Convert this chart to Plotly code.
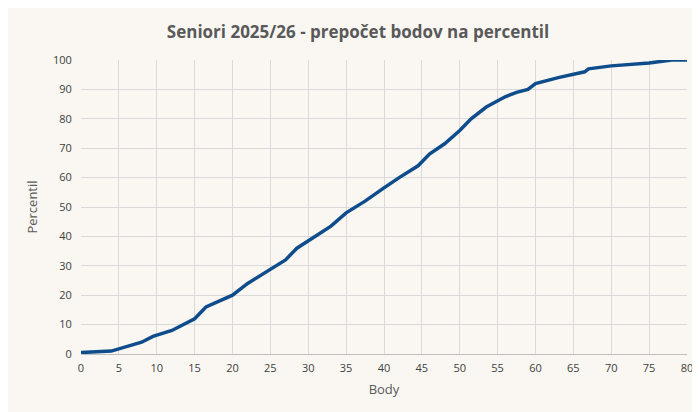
import plotly.graph_objects as go

body = [0, 3.7, 4, 8, 9.5, 12, 15, 16.5, 20, 22, 25, 27, 28.5, 31, 33, 35, 37.5, 40, 42, 44.5, 46, 48, 50, 51.5, 53.5, 56, 57.5, 59, 60, 63, 65, 66.5, 67, 70, 75, 78, 80]
percentil = [0.5, 0.7, 1, 4, 6, 8, 12, 16, 20, 24, 29, 32, 36, 40, 43.5, 48, 52, 56.5, 60, 64, 68, 71.5, 76, 80, 84, 87.5, 89, 90, 92, 94, 95, 96, 97, 98, 99, 100, 100]

fig = go.Figure(go.Scatter(x=body, y=percentil, mode="lines",
                           line=dict(color="#0E4C8C", width=3.5)))
fig.update_layout(
    width=700, height=412,
    paper_bgcolor="#FAF7F2", plot_bgcolor="#FAF7F2",
    margin=dict(l=73, r=21, t=52, b=66, autoexpand=False),
    title=dict(text="<b>Seniori 2025/26 - prepočet bodov na percentil</b>", x=0.5, y=0.955,
               font=dict(family="Open Sans", size=17, color="#595959")),
    font=dict(family="Open Sans", size=11, color="#404040"),
    showlegend=False,
)
fig.update_xaxes(range=[0, 80], dtick=5, showgrid=True, gridcolor="#DADADA",
                 zeroline=False, showline=True, linecolor="#BFBFBF", automargin=False,
                 ticks="outside", ticklen=4, tickcolor="rgba(0,0,0,0)",
                 title=dict(text="Body", font=dict(size=13, color="#595959"), standoff=10))
fig.update_yaxes(range=[0, 100], dtick=10, showgrid=True, gridcolor="#DADADA",
                 zeroline=False, automargin=False,
                 ticks="outside", ticklen=6, tickcolor="rgba(0,0,0,0)",
                 title=dict(text="Percentil", font=dict(size=13, color="#595959"), standoff=12))
fig.write_html("out.html")
